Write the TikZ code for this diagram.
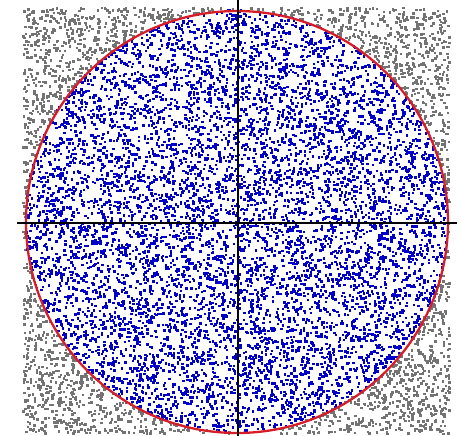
\documentclass[tikz,border=0pt]{standalone}
\definecolor{dotblue}{RGB}{0,0,200}
\definecolor{dotgray}{RGB}{115,115,115}
\definecolor{circred}{RGB}{215,30,40}
\tikzset{
  bluedot/.style={fill=dotblue},
  graydot/.style={fill=dotgray},
  rim/.style={draw=circred,line width=2.3pt},
  axisline/.style={draw=black,line width=2pt}
}
\begin{document}
\begin{tikzpicture}[x=1pt,y=-1pt]
\useasboundingbox (0,0) rectangle (461,436);
\pgfmathsetseed{20240}
\foreach \i in {1,...,10000}{
  \pgfmathsetmacro\u{rand}
  \pgfmathsetmacro\v{rand}
  \pgfmathsetmacro\d{\u*\u+\v*\v}
  \ifdim\d pt<0.981pt
    \fill[bluedot] ({236.5+213*\u-1.25},{221+213*\v-1.25}) rectangle ++(2.5,2.5);
  \else
    \fill[graydot] ({236.5+213*\u-1.25},{221+213*\v-1.25}) rectangle ++(2.5,2.5);
  \fi
}
\coordinate (c) at (237,222);
\draw[rim] (c) circle (211);
\coordinate (top) at (238,0);
\coordinate (bot) at (238,436);
\coordinate (lft) at (17,223);
\coordinate (rgt) at (457,223);
\draw[axisline] (top) -- (bot);
\draw[axisline] (lft) -- (rgt);
\end{tikzpicture}
\end{document}
